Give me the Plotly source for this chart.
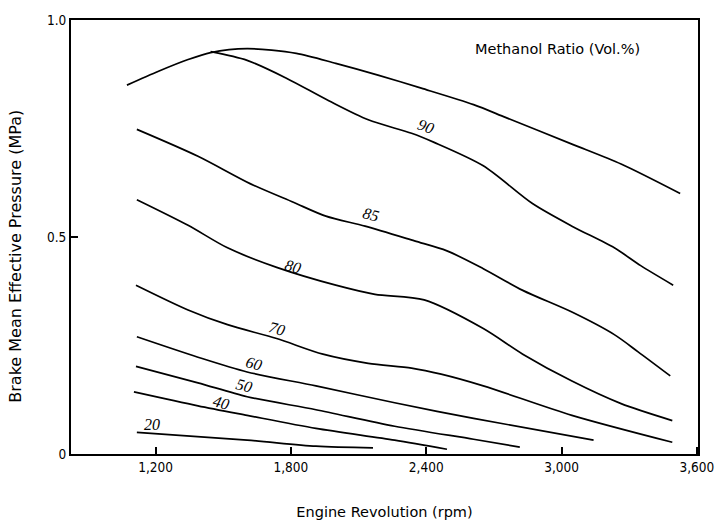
import plotly.graph_objects as go

# Full-load (envelope) curve
env_x = [1073, 1213, 1344, 1444, 1606, 1824, 1999, 2186, 2378, 2610, 2754, 3046, 3264, 3526]
env_y = [0.850, 0.882, 0.909, 0.925, 0.934, 0.923, 0.900, 0.873, 0.843, 0.805, 0.775, 0.714, 0.668, 0.600]

r90_x = [1444, 1606, 1780, 1968, 2143, 2335, 2435, 2653, 2871, 3046, 3234, 3351, 3495]
r90_y = [0.927, 0.907, 0.866, 0.814, 0.770, 0.739, 0.718, 0.664, 0.577, 0.525, 0.475, 0.434, 0.389]

r85_x = [1117, 1388, 1619, 1811, 1955, 2129, 2348, 2492, 2653, 2828, 3046, 3234, 3338, 3482]
r85_y = [0.748, 0.686, 0.623, 0.580, 0.548, 0.525, 0.491, 0.468, 0.427, 0.377, 0.327, 0.275, 0.236, 0.180]

r80_x = [1117, 1344, 1519, 1737, 1999, 2173, 2391, 2653, 2828, 3046, 3264, 3491]
r80_y = [0.586, 0.527, 0.475, 0.430, 0.389, 0.368, 0.355, 0.289, 0.230, 0.168, 0.116, 0.077]

r70_x = [1113, 1344, 1519, 1737, 1942, 2143, 2335, 2466, 2653, 3046, 3491]
r70_y = [0.389, 0.332, 0.298, 0.266, 0.230, 0.209, 0.198, 0.184, 0.157, 0.089, 0.027]

r60_x = [1117, 1388, 1606, 1911, 2260, 2610, 3142]
r60_y = [0.270, 0.223, 0.189, 0.157, 0.118, 0.082, 0.032]

r50_x = [1113, 1388, 1606, 1911, 2260, 2610, 2815]
r50_y = [0.202, 0.164, 0.132, 0.102, 0.064, 0.034, 0.016]

r40_x = [1104, 1388, 1606, 1911, 2260, 2492]
r40_y = [0.143, 0.111, 0.089, 0.059, 0.032, 0.011]

r20_x = [1117, 1606, 1911, 2164]
r20_y = [0.050, 0.032, 0.018, 0.014]

label_text = ["90", "85", "80", "70", "60", "50", "40", "20"]
label_x = [2400, 2156, 1811, 1737, 1636, 1593, 1488, 1183]
label_y = [0.755, 0.552, 0.433, 0.289, 0.209, 0.157, 0.118, 0.068]
label_rot = [20, 15, 15, 15, 15, 15, 15, 0]

x_ticks = [1200, 1800, 2400, 3000, 3600]
x_ticktext = ["1,200", "1,800", "2,400", "3,000", "3,600"]
y_ticks = [0, 0.5, 1.0]
y_ticktext = ["0", "0.5", "1.0"]

series = [(env_x, env_y), (r90_x, r90_y), (r85_x, r85_y), (r80_x, r80_y),
          (r70_x, r70_y), (r60_x, r60_y), (r50_x, r50_y), (r40_x, r40_y), (r20_x, r20_y)]

fig = go.Figure()
for xs, ys in series:
    fig.add_trace(go.Scatter(x=xs, y=ys, mode="lines",
                             line=dict(color="black", width=1.7, shape="spline", smoothing=0.8),
                             showlegend=False, hoverinfo="skip"))

for t, x, y, r in zip(label_text, label_x, label_y, label_rot):
    fig.add_annotation(x=x, y=y, text="<i>" + t + "</i>", showarrow=False,
                       textangle=r, font=dict(family="Liberation Serif, DejaVu Serif, serif", size=16, color="black"))

sans = "DejaVu Sans, sans-serif"
fig.add_annotation(x=0.776, y=0.933, xref="paper", yref="paper", xanchor="center", yanchor="middle",
                   text="Methanol Ratio (Vol.%)",
                   showarrow=False, font=dict(family=sans, size=14.5, color="black"))

# y-axis title placed as a rotated annotation (offset below plot centre as in the reference)
fig.add_annotation(x=-0.089, y=0.455, xref="paper", yref="paper", xanchor="center", yanchor="middle",
                   text="Brake Mean Effective Pressure (MPa)", textangle=-90,
                   showarrow=False, font=dict(family=sans, size=16, color="black"))

narrow = "DejaVu Sans Condensed, sans-serif"
fig.update_layout(
    width=726, height=530,
    margin=dict(l=71, r=18, t=15, b=76),
    paper_bgcolor="white", plot_bgcolor="white",
    font=dict(family=sans, color="black", size=12),
    xaxis=dict(range=[825, 3605], tickvals=x_ticks, ticktext=x_ticktext,
               ticks="inside", ticklen=7, tickwidth=1.5, tickcolor="black",
               showline=True, linecolor="black", linewidth=2, mirror=True,
               showgrid=False, zeroline=False,
               tickfont=dict(family=narrow, size=13.5),
               title=dict(text="Engine Revolution (rpm)", standoff=33,
                          font=dict(family=sans, size=14.5))),
    yaxis=dict(range=[0, 1.0], tickvals=y_ticks, ticktext=y_ticktext,
               ticks="inside", ticklen=7, tickwidth=1.5, tickcolor="black",
               showline=True, linecolor="black", linewidth=2, mirror=True,
               showgrid=False, zeroline=False,
               tickfont=dict(family=narrow, size=13.5)),
)

fig.write_html("out.html")
